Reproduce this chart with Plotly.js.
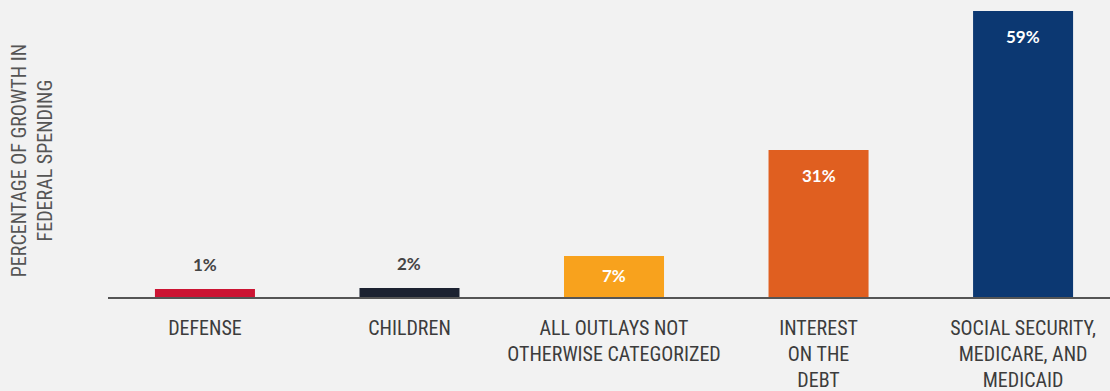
<!DOCTYPE html>
<html>
<head>
<meta charset="utf-8">
<script src="https://cdn.plot.ly/plotly-3.0.1.min.js"></script>
<style>
  html, body { margin: 0; padding: 0; background: #f2f2f2; }
  #chart { width: 1110px; height: 391px; }
</style>
</head>
<body>
<div id="chart"></div>
<script>
// Categories (tick labels)
var categories = [
  "DEFENSE",
  "CHILDREN",
  "ALL OUTLAYS NOT<br>OTHERWISE CATEGORIZED",
  "INTEREST<br>ON THE<br>DEBT",
  "SOCIAL SECURITY,<br>MEDICARE, AND<br>MEDICAID"
];
// Bar heights (percent of growth)
var values = [1.65, 1.85, 8.45, 30.3, 59];
// Printed labels
var valueLabels = ["1%", "2%", "7%", "31%", "59%"];
var barColors = ["#cc1433", "#1c2231", "#f8a21d", "#e05f20", "#0c3872"];

var narrowFont = "'Roboto Condensed', 'DejaVu Sans Condensed', 'Liberation Sans Narrow', 'Arial Narrow', sans-serif";

var xIdx = categories.map(function (c, i) { return i; });

var trace = {
  type: "bar",
  x: xIdx,
  y: values,
  width: 0.489,
  marker: { color: barColors, line: { width: 0 } },
  hoverinfo: "none"
};

var annotations = values.map(function (v, i) {
  var inside = v > 5;
  var a = {
    x: i, xref: "x", yref: "y",
    text: "<b>" + valueLabels[i] + "</b>",
    showarrow: false,
    font: { family: "Lato, 'Open Sans', sans-serif", size: 17, color: inside ? "#ffffff" : "#444444" }
  };
  if (!inside) {
    a.y = v; a.yanchor = "bottom"; a.yshift = 12;
  } else if (v < 10) {
    a.y = v / 2; a.yanchor = "middle"; a.yshift = 1;
  } else {
    a.y = v; a.yanchor = "top"; a.yshift = -13;
  }
  return a;
});

annotations.push({
  xref: "paper", yref: "paper",
  x: -0.075, y: 0.46,
  xanchor: "center", yanchor: "middle",
  text: "PERCENTAGE OF GROWTH IN<br>FEDERAL SPENDING",
  textangle: -90,
  showarrow: false,
  font: { family: narrowFont, size: 20, color: "#555555" }
});

var layout = {
  width: 1110, height: 391,
  margin: { l: 108, r: 0, t: 0, b: 94 },
  paper_bgcolor: "#f2f2f2",
  plot_bgcolor: "#f2f2f2",
  showlegend: false,
  xaxis: {
    range: [-0.474, 4.425],
    tickmode: "array",
    tickvals: xIdx,
    ticktext: categories,
    showgrid: false, zeroline: false,
    showline: true, linecolor: "#555555", linewidth: 2,
    ticks: "",
    ticklabelstandoff: 12,
    tickfont: { family: narrowFont, size: 20, color: "#3c3c3c" },
    fixedrange: true
  },
  yaxis: {
    range: [0, 61.27],
    showgrid: false, zeroline: false, showline: false,
    showticklabels: false, ticks: "",
    fixedrange: true
  },
  annotations: annotations
};

Plotly.newPlot("chart", [trace], layout, { displayModeBar: false, staticPlot: true });
</script>
</body>
</html>
